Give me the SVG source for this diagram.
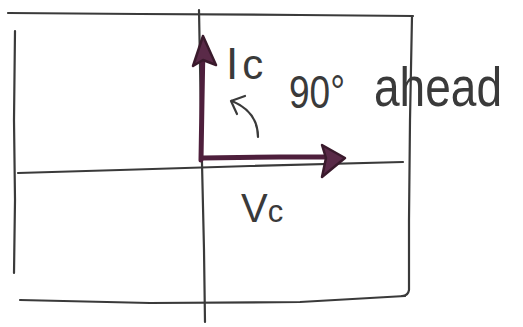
<svg xmlns="http://www.w3.org/2000/svg" width="523" height="327" viewBox="0 0 523 327">
<style>
.grid{fill:none;stroke:#3a3a3a;stroke-width:2.2;stroke-linecap:round;stroke-linejoin:round}
.vec{fill:none;stroke:#4e1f3c;stroke-width:5;stroke-linecap:round;stroke-linejoin:round}
.head{fill:#5a2a48;stroke:#3a1a2c;stroke-width:2.5;stroke-linejoin:round}
.hand{fill:#3a3a3a;font-family:"Liberation Sans","DejaVu Sans",sans-serif}
.thin{fill:none;stroke:#3a3a3a;stroke-width:2.2;stroke-linecap:round}
</style>
<rect width="523" height="327" fill="#ffffff"/>
<g id="grid">
<path class="grid" d="M8,13 L140,14 L300,15 L413,16"/>
<path class="grid" d="M15,31 L14,120 L15,200 L14,273"/>
<path class="grid" d="M18,173 L120,170 L250,166 L403,162"/>
<path class="grid" d="M199,10 L201,120 L204,250 L205,322"/>
<path class="grid" d="M412,16 L410,120 L409,220 L409,290 Q408,296 402,296"/>
<path class="grid" d="M20,300 L150,303 L300,302 L405,296"/>
</g>
<g id="connectors">
<g id="vector-ic">
<path class="vec" d="M201,160 L202,100 L203,45"/>
<path class="head" d="M203,36 L193,66 L203,60 L216,65 Z"/>
</g>
<g id="vector-vc">
<path class="vec" d="M203,158 L280,157 L330,157"/>
<path class="head" d="M345,158 L322,145 L326,158 L322,177 Z"/>
</g>
<g id="angle-arrow">
<path class="thin" d="M258,137 Q258,112 232,101"/>
<path class="thin" d="M231,101 L245,96 M231,101 L237,114"/>
</g>
</g>
<g id="label-ic">
<text class="hand" x="226" y="79" font-size="44">I<tspan font-size="42" dx="4">c</tspan></text>
</g>
<g id="label-90-ahead">
<text class="hand" x="289" y="108" font-size="46" textLength="56" lengthAdjust="spacingAndGlyphs">90°</text>
<text class="hand" x="374" y="106" font-size="56" textLength="128" lengthAdjust="spacingAndGlyphs">ahead</text>
</g>
<g id="label-vc">
<text class="hand" x="241" y="222" font-size="40">V<tspan font-size="31">c</tspan></text>
</g>
</svg>
